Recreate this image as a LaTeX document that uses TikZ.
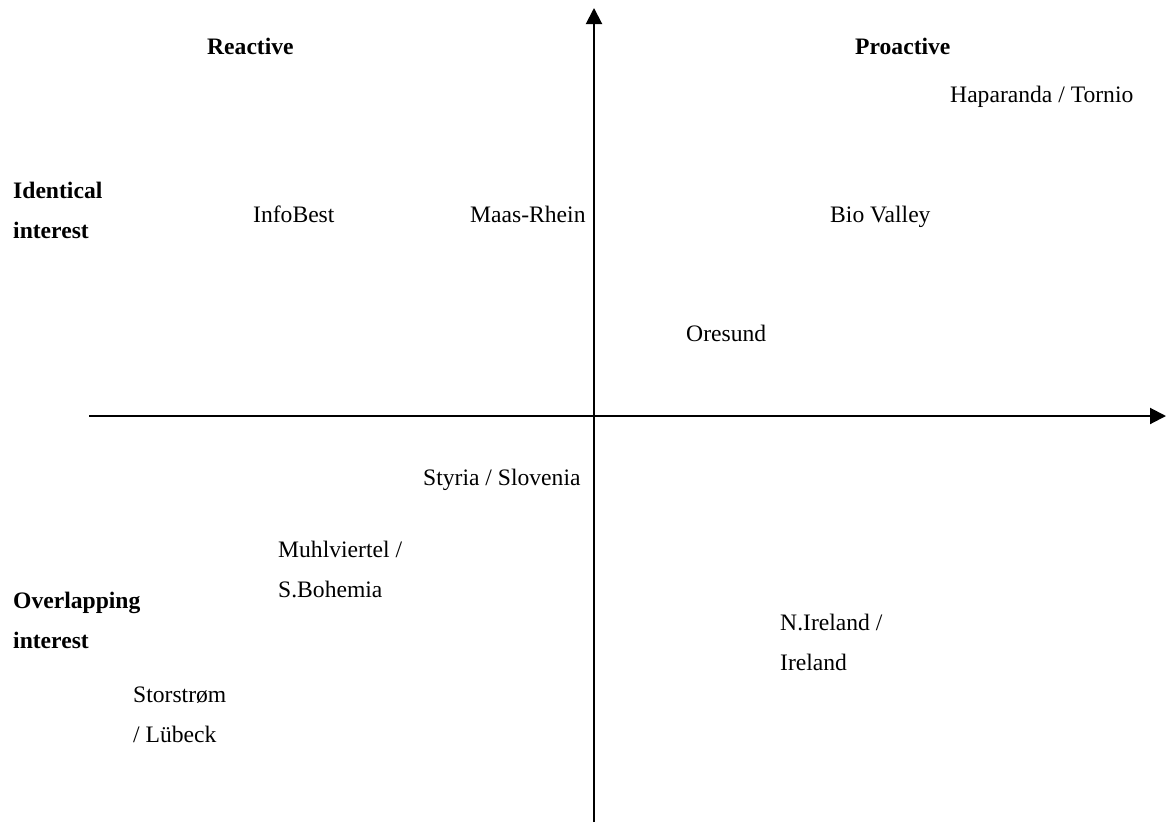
\documentclass[tikz,border=0pt]{standalone}
\usepackage{fontspec}
\setmainfont{Liberation Serif}
\usetikzlibrary{arrows.meta}
\begin{document}
\begin{tikzpicture}[x=1pt,y=-1pt,
  lbl/.style={anchor=base west,inner sep=0pt,font=\fontsize{23.6}{28}\selectfont},
  hdr/.style={lbl,font=\fontsize{23.6}{28}\selectfont\bfseries},
  axis/.style={line width=2pt,-{Triangle[length=16pt,width=16pt]}}]
\useasboundingbox (0,0) rectangle (1166,822);
\coordinate (xs) at (89,416);
\coordinate (xe) at (1166,416);
\coordinate (ys) at (594,822);
\coordinate (ye) at (594,8);
\draw[axis] (xs) -- (xe);
\draw[axis] (ys) -- (ye);
\node[hdr] (reactive) at (207,54) {Reactive};
\node[hdr] (proactive) at (855,54) {Proactive};
\node[hdr] (ident1) at (13,198) {Identical};
\node[hdr] (ident2) at (13,238) {interest};
\node[hdr] (over1) at (13,608) {Overlapping};
\node[hdr] (over2) at (13,648) {interest};
\node[lbl] (hap) at (950,102) {Haparanda / Tornio};
\node[lbl] (info) at (253,222) {InfoBest};
\node[lbl] (maas) at (470,222) {Maas-Rhein};
\node[lbl] (bio) at (830,222) {Bio Valley};
\node[lbl] (ore) at (686,341) {Oresund};
\node[lbl] (sty) at (423,485) {Styria / Slovenia};
\node[lbl] (muh1) at (278,557) {Muhlviertel /};
\node[lbl] (muh2) at (278,597) {S.Bohemia};
\node[lbl] (nir1) at (780,630) {N.Ireland /};
\node[lbl] (nir2) at (780,670) {Ireland};
\node[lbl] (sto1) at (133,702) {Storstrøm};
\node[lbl] (sto2) at (133,742) {/ Lübeck};
\end{tikzpicture}
\end{document}
